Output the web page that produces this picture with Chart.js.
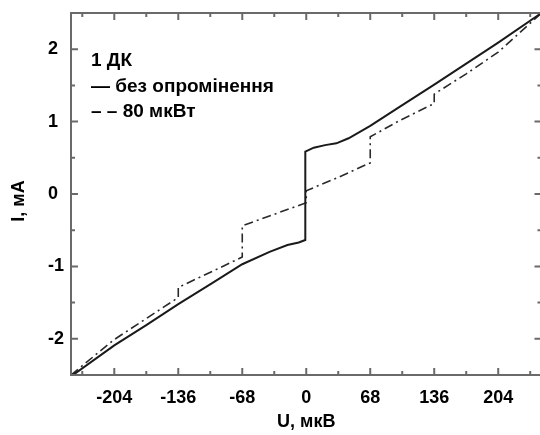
<!DOCTYPE html>
<html>
<head>
<meta charset="utf-8">
<script src="https://cdn.jsdelivr.net/npm/chart.js@4"></script>
<style>
  html, body { margin: 0; padding: 0; background: #fff; overflow: hidden; }
</style>
</head>
<body>
<canvas id="grafico" width="545" height="435"></canvas>
<script>
// дані
const uSolid = [-250, -204, -170, -136, -100, -68, -39, -20, -8, -1, -1, 8, 20, 32, 45, 68, 100, 136, 170, 204, 250];
const iSolid = [-2.52, -2.09, -1.81, -1.52, -1.23, -0.97, -0.80, -0.705, -0.67, -0.635, 0.585, 0.64, 0.675, 0.70, 0.77, 0.94, 1.21, 1.51, 1.80, 2.09, 2.50];

const uDash = [-250, -204, -170, -136, -136, -100, -68, -68, -34, 0, 0, 34, 68, 68, 100, 136, 136, 170, 204, 250];
const iDash = [-2.50, -2.01, -1.72, -1.43, -1.29, -1.07, -0.87, -0.44, -0.28, -0.12, 0.045, 0.23, 0.43, 0.79, 1.02, 1.25, 1.38, 1.66, 1.96, 2.50];

const xTicks = [-204, -136, -68, 0, 68, 136, 204];
const yTicks = [-2, -1, 0, 1, 2];
const xMinor = [-238, -170, -102, -34, 34, 102, 170, 238];
const yMinor = [-1.5, -0.5, 0.5, 1.5];

const legendaTitulo = '1 ДК';
const nomes = ['без опромінення', '80 мкВт'];
const tituloY = 'I, мА';

const pares = (us, is) => us.map((u, k) => ({ x: u, y: is[k] }));

const fonte = '"Liberation Sans", Arial, sans-serif';

// рамка, внутрішні риски осей, підпис осі Y і легенда
const molduraPlugin = {
  id: 'moldura',
  afterDatasetsDraw(chart) {
    const { ctx, chartArea: a, scales: { x, y } } = chart;
    ctx.save();
    ctx.strokeStyle = '#6a6a6a';
    ctx.lineWidth = 2;
    ctx.strokeRect(a.left, a.top, a.right - a.left, a.bottom - a.top);
    const riscaX = (v, len) => {
      const px = x.getPixelForValue(v);
      ctx.beginPath();
      ctx.moveTo(px, a.bottom); ctx.lineTo(px, a.bottom - len);
      ctx.moveTo(px, a.top); ctx.lineTo(px, a.top + len);
      ctx.stroke();
    };
    const riscaY = (v, len) => {
      const py = y.getPixelForValue(v);
      ctx.beginPath();
      ctx.moveTo(a.left, py); ctx.lineTo(a.left + len, py);
      ctx.moveTo(a.right, py); ctx.lineTo(a.right - len, py);
      ctx.stroke();
    };
    xTicks.forEach(v => riscaX(v, 7));
    xMinor.forEach(v => riscaX(v, 4));
    yTicks.forEach(v => riscaY(v, 7));
    yMinor.forEach(v => riscaY(v, 4));

    ctx.fillStyle = '#000';

    // підпис осі Y
    ctx.save();
    ctx.translate(19, 201);
    ctx.rotate(-Math.PI / 2);
    ctx.font = 'bold 18px ' + fonte;
    ctx.textAlign = 'center';
    ctx.textBaseline = 'middle';
    ctx.fillText(tituloY, 0, 0);
    ctx.restore();

    // легенда всередині поля
    ctx.font = 'bold 19px ' + fonte;
    ctx.textBaseline = 'alphabetic';
    ctx.fillText(legendaTitulo, 91, 66);
    ctx.fillText('— ' + nomes[0], 91, 92);
    ctx.fillText('– – ' + nomes[1], 91, 117);
    ctx.restore();
  }
};

new Chart(document.getElementById('grafico'), {
  type: 'scatter',
  data: {
    datasets: [
      {
        label: nomes[0],
        data: pares(uSolid, iSolid),
        showLine: true,
        borderColor: '#1a1a1a',
        borderWidth: 2,
        pointRadius: 0,
        tension: 0
      },
      {
        label: nomes[1],
        data: pares(uDash, iDash),
        showLine: true,
        borderColor: '#2a2a2a',
        borderWidth: 1.6,
        borderDash: [9, 4, 2, 4],
        pointRadius: 0,
        tension: 0
      }
    ]
  },
  options: {
    responsive: false,
    animation: false,
    layout: { padding: { left: 48, top: 13, right: 3.5, bottom: 0 } },
    plugins: {
      legend: { display: false },
      tooltip: { enabled: false }
    },
    scales: {
      x: {
        type: 'linear',
        min: -250,
        max: 250,
        afterBuildTicks: s => { s.ticks = xTicks.map(v => ({ value: v })); },
        afterFit: s => { s.height = 60; s.paddingLeft = 0; s.paddingRight = 0; },
        grid: { display: false, drawTicks: false },
        border: { display: false },
        ticks: { color: '#000', padding: 12, font: { family: fonte, size: 18, weight: 'bold' } },
        title: {
          display: true,
          text: 'U, мкВ',
          color: '#000',
          padding: { top: 0, bottom: 2 },
          font: { family: fonte, size: 18, weight: 'bold' }
        }
      },
      y: {
        type: 'linear',
        min: -2.5,
        max: 2.5,
        afterBuildTicks: s => { s.ticks = yTicks.map(v => ({ value: v })); },
        afterFit: s => { s.width = 23; s.paddingTop = 0; s.paddingBottom = 0; },
        grid: { display: false, drawTicks: false },
        border: { display: false },
        ticks: { color: '#000', crossAlign: 'far', font: { family: fonte, size: 18, weight: 'bold' } }
      }
    }
  },
  plugins: [molduraPlugin]
});
</script>
</body>
</html>
